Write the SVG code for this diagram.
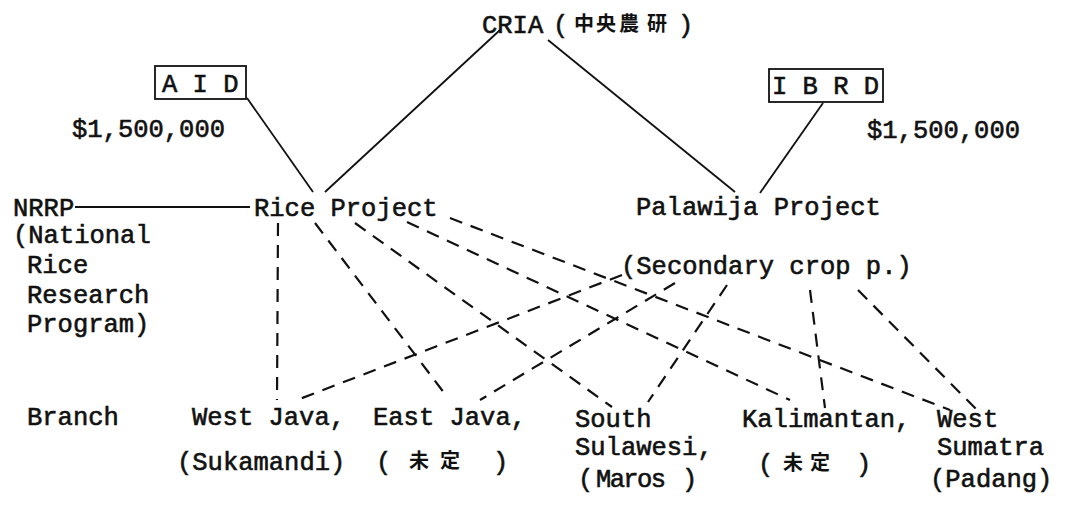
<svg xmlns="http://www.w3.org/2000/svg" width="1079" height="509" viewBox="0 0 1079 509">
<style>
.t{font-family:"Liberation Mono","Courier New",monospace;font-size:25.5px;font-weight:normal;fill:#111;stroke:#111;stroke-width:0.6}
.c{font-family:"Noto Sans CJK JP","Noto Sans CJK SC",sans-serif;font-size:20px;font-weight:bold;fill:#111;text-anchor:middle}
.s{stroke:#111;stroke-width:1.8;fill:none}
.d{stroke:#111;stroke-width:2.2;fill:none;stroke-dasharray:13 9}
.b{stroke:#111;stroke-width:1.8;fill:none}
</style>
<rect width="1079" height="509" fill="#fff"/>
<g id="connectors">
<line class="s" x1="500" y1="30" x2="325" y2="192"/>
<line class="s" x1="247" y1="98" x2="313" y2="192"/>
<line class="s" x1="548" y1="40" x2="735" y2="192"/>
<line class="s" x1="823" y1="103" x2="760" y2="193"/>
<line class="s" x1="75" y1="207" x2="250" y2="207"/>
<line class="d" x1="278" y1="223" x2="277" y2="400"/>
<line class="d" x1="315" y1="223" x2="448" y2="398"/>
<line class="d" x1="355" y1="223" x2="612" y2="407"/>
<line class="d" x1="407" y1="222" x2="790" y2="400"/>
<line class="d" x1="450" y1="218" x2="950" y2="410"/>
<line class="d" x1="622" y1="275" x2="297" y2="400"/>
<line class="d" x1="675" y1="283" x2="480" y2="400"/>
<line class="d" x1="727" y1="285" x2="648" y2="402"/>
<line class="d" x1="810" y1="290" x2="825" y2="408"/>
<line class="d" x1="858" y1="290" x2="977" y2="410"/>
</g>
<g id="cria">
<text class="t" x="482" y="33">CRIA</text>
<text class="t" x="553" y="33">(</text>
<text class="c" x="584 606 629 657" y="31">中央農研</text>
<text class="t" x="678" y="33">)</text>
</g>
<g id="aid">
<rect class="b" x="155" y="66" width="91" height="33"/>
<text class="t" x="162" y="92">A I D</text>
<text class="t" x="72" y="137">$1,500,000</text>
</g>
<g id="ibrd">
<rect class="b" x="769" y="69" width="114" height="33"/>
<text class="t" x="772" y="94">I B R D</text>
<text class="t" x="867" y="138">$1,500,000</text>
</g>
<g id="nrrp">
<text class="t" x="13" y="216">NRRP</text>
<text class="t" x="13" y="243">(National</text>
<text class="t" x="27" y="273">Rice</text>
<text class="t" x="27" y="303">Research</text>
<text class="t" x="27" y="332">Program)</text>
</g>
<g id="rice">
<text class="t" x="254" y="216">Rice Project</text>
</g>
<g id="palawija">
<text class="t" x="636" y="215">Palawija Project</text>
<text class="t" x="621" y="274">(Secondary crop p.)</text>
</g>
<g id="branch">
<text class="t" x="27" y="425">Branch</text>
</g>
<g id="westjava">
<text class="t" x="192" y="425">West Java,</text>
<text class="t" x="177" y="470">(Sukamandi)</text>
</g>
<g id="eastjava">
<text class="t" x="373" y="425">East Java,</text>
<text class="t" x="376" y="470">(</text>
<text class="c" x="419 450" y="468">未定</text>
<text class="t" x="493" y="470">)</text>
</g>
<g id="sulawesi">
<text class="t" x="575" y="427">South</text>
<text class="t" x="575" y="455">Sulawesi,</text>
<text class="t" x="578" y="487">(</text>
<text class="t" x="596" y="487" textLength="70">Maros</text>
<text class="t" x="682" y="487">)</text>
</g>
<g id="kalimantan">
<text class="t" x="742" y="427">Kalimantan,</text>
<text class="t" x="758" y="472">(</text>
<text class="c" x="793 820" y="470">未定</text>
<text class="t" x="856" y="472">)</text>
</g>
<g id="sumatra">
<text class="t" x="937" y="427">West</text>
<text class="t" x="937" y="455">Sumatra</text>
<text class="t" x="930" y="487">(Padang)</text>
</g>
</svg>
